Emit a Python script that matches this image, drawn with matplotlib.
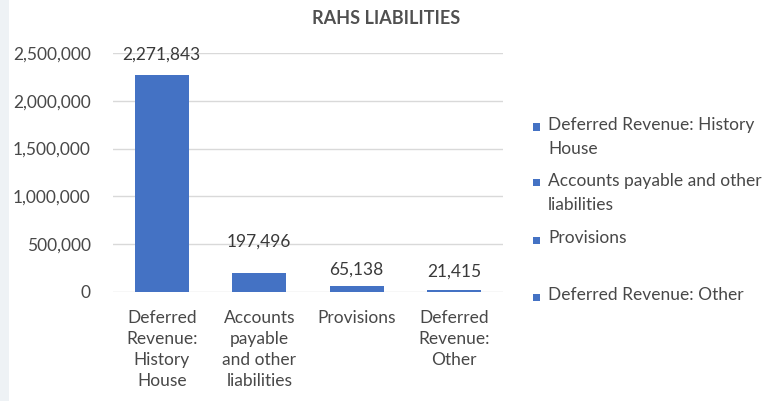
import matplotlib
matplotlib.use("Agg")
import matplotlib.pyplot as plt
from matplotlib.patches import Rectangle

categories = ["Deferred\nRevenue:\nHistory\nHouse", "Accounts\npayable\nand other\nliabilities",
              "Provisions", "Deferred\nRevenue:\nOther"]
legend_labels = ["Deferred Revenue: History\nHouse", "Accounts payable and other\nliabilities",
                 "Provisions", "Deferred Revenue: Other"]
values = [2271843, 197496, 65138, 21415]
yticks = [0, 500000, 1000000, 1500000, 2000000, 2500000]

W, H = 773, 401
plt.rcParams['font.family'] = ['Lato', 'DejaVu Sans']
fig = plt.figure(figsize=(W / 100, H / 100), dpi=100)
fig.patch.set_facecolor('white')
fig.patches.append(Rectangle((0, 0), 9 / W, 1, transform=fig.transFigure,
                             facecolor='#eef2f5', edgecolor='none', zorder=0))

left, right, top, bottom = 113, 503, 53, 292
ax = fig.add_axes([left / W, (H - bottom) / H, (right - left) / W, (bottom - top) / H])
blue = '#4472C4'
txt = '#484848'
x = range(len(values))
ax.bar(x, values, width=0.55, color=blue, zorder=3)
ax.set_xlim(-0.5, len(values) - 0.5)
ax.set_ylim(0, 2500000)
ax.set_yticks(yticks)
ax.set_yticklabels([f"{v:,}" for v in yticks], fontsize=12.5, color=txt)
ax.set_xticks(list(x))
ax.set_xticklabels(categories, fontsize=12.5, color=txt, linespacing=1.38)
ax.tick_params(axis='both', length=0)
ax.tick_params(axis='y', pad=16)
ax.tick_params(axis='x', pad=13)
ax.grid(axis='y', color='#d9d9d9', linewidth=1, zorder=0)
for s in ax.spines.values():
    s.set_visible(False)

offsets = [20, 31, 16, 18]
for i, (v, off) in enumerate(zip(values, offsets)):
    ax.annotate(f"{v:,}", (i, v), xytext=(0, off * 0.72), textcoords='offset points',
                ha='center', va='center', fontsize=12.5, color='#3a3a3a', zorder=4)

fig.text(386 / W, 1 - 18 / H, "RAHS LIABILITIES", ha='center', va='center',
         fontsize=13, fontweight='bold', color='#505050')

leg_y = [127, 183, 240, 297]
for lab, yy in zip(legend_labels, leg_y):
    fig.patches.append(Rectangle((533 / W, 1 - (yy + 3.5) / H), 7 / W, 7 / H,
                                 transform=fig.transFigure, facecolor=blue, edgecolor='none'))
    fig.text(548 / W, 1 - (yy - 10) / H, lab, ha='left', va='top', fontsize=12.5,
             color=txt, linespacing=1.65)

fig.savefig("out.png", dpi=100)
